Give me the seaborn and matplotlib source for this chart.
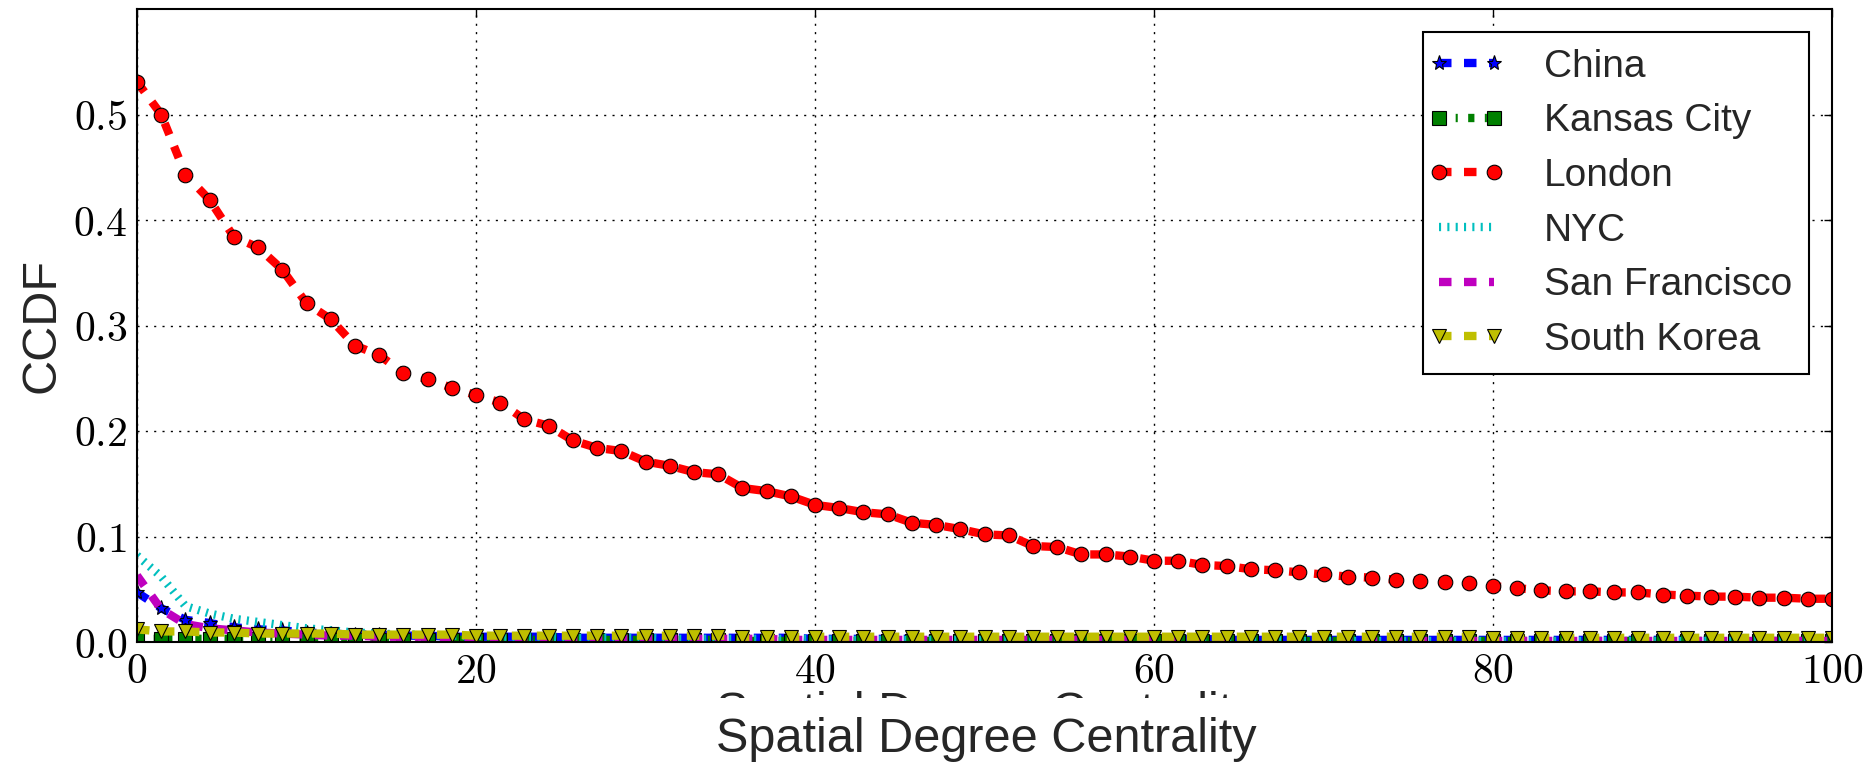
import numpy as np
import matplotlib
matplotlib.use("Agg")
import matplotlib.pyplot as plt
import seaborn as sns
from matplotlib.transforms import Bbox
from matplotlib.legend_handler import HandlerLine2D

# ---------------- data ----------------
x_values = np.linspace(0, 100, 71)

china = [0.047, 0.032, 0.021, 0.018, 0.014, 0.012, 0.011, 0.009, 0.008, 0.007,
         0.007, 0.006, 0.006, 0.005, 0.005, 0.005, 0.005, 0.005, 0.004, 0.004,
         0.004, 0.004, 0.004, 0.004, 0.004, 0.004, 0.004, 0.004, 0.003, 0.003,
         0.003, 0.003, 0.003, 0.003, 0.003, 0.003, 0.003, 0.003, 0.003, 0.003,
         0.003, 0.003, 0.003, 0.003, 0.003, 0.002, 0.002, 0.002, 0.002, 0.002,
         0.002, 0.002, 0.002, 0.002, 0.002, 0.002, 0.002, 0.002, 0.002, 0.002,
         0.002, 0.002, 0.002, 0.002, 0.002, 0.002, 0.002, 0.002, 0.002, 0.002, 0.002]

kansas_city = [0.003, 0.003, 0.003, 0.003, 0.003, 0.003, 0.003, 0.002, 0.002, 0.002,
               0.002, 0.002, 0.002, 0.002, 0.002, 0.002, 0.002, 0.002, 0.002, 0.002,
               0.002, 0.002, 0.002, 0.002, 0.002, 0.001, 0.001, 0.001, 0.001, 0.001,
               0.001, 0.001, 0.001, 0.001, 0.001, 0.001, 0.001, 0.001, 0.001, 0.001,
               0.001, 0.001, 0.001, 0.001, 0.001, 0.001, 0.001, 0.001, 0.001, 0.001,
               0.001, 0.001, 0.001, 0.001, 0.001, 0.001, 0.001, 0.001, 0.001, 0.001,
               0.001, 0.001, 0.001, 0.001, 0.001, 0.001, 0.001, 0.001, 0.001, 0.001, 0.001]

london = [0.531, 0.500, 0.443, 0.419, 0.384, 0.374, 0.353, 0.321, 0.306, 0.281,
          0.272, 0.255, 0.249, 0.241, 0.234, 0.227, 0.211, 0.205, 0.191, 0.184,
          0.181, 0.171, 0.167, 0.161, 0.159, 0.146, 0.143, 0.138, 0.130, 0.127,
          0.123, 0.121, 0.113, 0.111, 0.107, 0.102, 0.101, 0.091, 0.090, 0.083,
          0.083, 0.081, 0.077, 0.077, 0.073, 0.072, 0.069, 0.068, 0.066, 0.064,
          0.062, 0.061, 0.059, 0.058, 0.057, 0.056, 0.053, 0.051, 0.049, 0.048,
          0.048, 0.047, 0.047, 0.045, 0.044, 0.043, 0.043, 0.042, 0.042, 0.041, 0.041]

nyc = [0.082, 0.062, 0.034, 0.027, 0.022, 0.019, 0.016, 0.013, 0.011, 0.009,
       0.008, 0.007, 0.007, 0.006, 0.006, 0.005, 0.005, 0.005, 0.004, 0.004,
       0.004, 0.004, 0.003, 0.003, 0.003, 0.003, 0.003, 0.003, 0.003, 0.002,
       0.002, 0.002, 0.002, 0.002, 0.002, 0.002, 0.002, 0.002, 0.002, 0.002,
       0.002, 0.002, 0.002, 0.002, 0.002, 0.002, 0.002, 0.002, 0.001, 0.001,
       0.001, 0.001, 0.001, 0.001, 0.001, 0.001, 0.001, 0.001, 0.001, 0.001,
       0.001, 0.001, 0.001, 0.001, 0.001, 0.001, 0.001, 0.001, 0.001, 0.001, 0.001]

san_francisco = [0.063, 0.031, 0.017, 0.013, 0.011, 0.009, 0.008, 0.007, 0.006, 0.006,
                 0.005, 0.005, 0.005, 0.004, 0.004, 0.004, 0.004, 0.004, 0.003, 0.003,
                 0.003, 0.003, 0.003, 0.003, 0.003, 0.003, 0.003, 0.002, 0.002, 0.002,
                 0.002, 0.002, 0.002, 0.002, 0.002, 0.002, 0.002, 0.002, 0.002, 0.002,
                 0.002, 0.002, 0.002, 0.002, 0.002, 0.002, 0.002, 0.002, 0.002, 0.002,
                 0.001, 0.001, 0.001, 0.001, 0.001, 0.001, 0.001, 0.001, 0.001, 0.001,
                 0.001, 0.001, 0.001, 0.001, 0.001, 0.001, 0.001, 0.001, 0.001, 0.001, 0.001]

south_korea = [0.012, 0.010, 0.010, 0.009, 0.009, 0.008, 0.008, 0.008, 0.008, 0.007,
               0.007, 0.007, 0.007, 0.007, 0.006, 0.006, 0.006, 0.006, 0.006, 0.006,
               0.006, 0.006, 0.006, 0.006, 0.006, 0.005, 0.005, 0.005, 0.005, 0.005,
               0.005, 0.005, 0.005, 0.005, 0.005, 0.005, 0.005, 0.005, 0.005, 0.005,
               0.005, 0.005, 0.005, 0.005, 0.005, 0.005, 0.005, 0.005, 0.005, 0.005,
               0.005, 0.005, 0.005, 0.005, 0.005, 0.005, 0.004, 0.004, 0.004, 0.004,
               0.004, 0.004, 0.004, 0.004, 0.004, 0.004, 0.004, 0.004, 0.004, 0.004, 0.004]

series_names = ["China", "Kansas City", "London", "NYC", "San Francisco", "South Korea"]
series_values = [china, kansas_city, london, nyc, san_francisco, south_korea]

x_ticks = [0, 20, 40, 60, 80, 100]
x_tick_labels = ["0", "20", "40", "60", "80", "100"]
y_ticks = [0.0, 0.1, 0.2, 0.3, 0.4, 0.5]
y_tick_labels = ["0.0", "0.1", "0.2", "0.3", "0.4", "0.5"]

# ---------------- style ----------------
sns.set_style("white")
plt.rcParams["font.family"] = ["Liberation Sans", "DejaVu Sans"]
plt.rcParams["mathtext.fontset"] = "cm"
plt.rcParams["lines.scale_dashes"] = False

colors = [(0, 0, 1), (0, 0.5, 0), (1, 0, 0), (0, 0.75, 0.75), (0.75, 0, 0.75), (0.75, 0.75, 0)]
styles = [(0, (9, 9)), (0, (4.5, 7.5, 1.5, 7.5)), (0, (9, 9)), (0, (1.5, 4.5)), (0, (9, 9)), (0, (9, 9))]
markers = ["*", "s", "o", None, None, "v"]
msizes = [11, 10, 10.5, 0, 0, 10.5]

W, H = 1871, 769
fig = plt.figure(figsize=(W / 100, H / 100), dpi=100)
ax = fig.add_axes([137 / W, 127 / H, (1832 - 137) / W, (642 - 9) / H])

for name, vals, c, ls, mk, ms in zip(series_names, series_values, colors, styles, markers, msizes):
    sns.lineplot(x=x_values, y=vals, ax=ax, color=c, linestyle=ls, marker=mk,
                 markersize=ms, markeredgecolor="k", markeredgewidth=0.8,
                 markerfacecolor=c, linewidth=6, label=name, legend=False,
                 estimator=None, sort=False)

ax.set_xlim(0, 100)
ax.set_ylim(0, 0.6)
ax.set_xticks(x_ticks)
ax.set_xticklabels([f"${t}$" for t in x_tick_labels])
ax.set_yticks(y_ticks)
ax.set_yticklabels([f"${t}$" for t in y_tick_labels])
ax.tick_params(direction="in", length=6, width=1, top=True, right=True,
               labelsize=30, pad=7, colors="k")
ax.grid(True, color="k", linestyle=(0, (1.5, 4.5)), linewidth=1.0)
ax.set_axisbelow(True)
for s in ax.spines.values():
    s.set_linewidth(1.5)
    s.set_color("k")
ax.set_xlabel("")
ax.set_ylabel("")

handles, labels = ax.get_legend_handles_labels()
leg = ax.legend(handles, labels, loc="upper right", fontsize=28, handlelength=1.4,
                handletextpad=1.3, borderpad=0.42, labelspacing=0.48,
                borderaxespad=0.6, fancybox=False, framealpha=1, edgecolor="k",
                handler_map={h: HandlerLine2D(marker_pad=0, numpoints=2) for h in handles})
leg.get_frame().set_linewidth(1.5)

fig.text(42 / W, 1 - 325 / H, "CCDF", rotation=90, ha="center", va="center", fontsize=35)
fig.text(986 / W, 17 / H, "Spatial Degree Centrality", ha="center", va="baseline", fontsize=35)
ghost = fig.text(986 / W, 43 / H, "Spatial Degree Centrality", ha="center", va="baseline",
                 fontsize=35, clip_on=True)
ghost.set_clip_box(Bbox([[0, 71], [W, 92]]))

fig.savefig("out.png", dpi=100)
